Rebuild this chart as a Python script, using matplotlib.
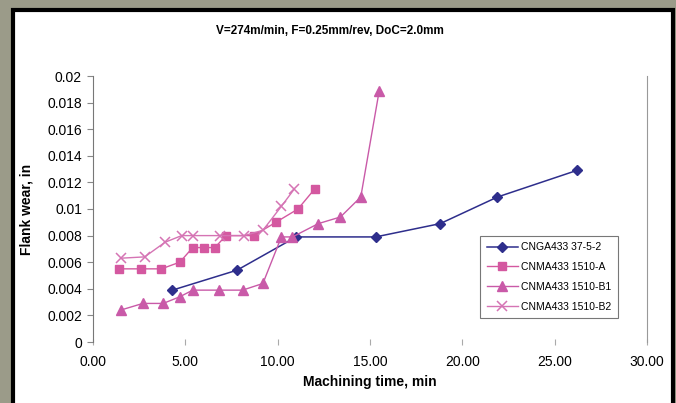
import matplotlib.pyplot as plt
from matplotlib.patches import Rectangle

plt.rcParams['font.family'] = ['Liberation Sans', 'DejaVu Sans']

# CNGA433 37-5-2
t_cnga = [4.3, 7.8, 11.0, 15.3, 18.8, 21.9, 26.2]
w_cnga = [0.0039, 0.0054, 0.0079, 0.0079, 0.0089, 0.0109, 0.0129]

# CNMA433 1510-A
t_a = [1.4, 2.6, 3.7, 4.7, 5.4, 6.0, 6.6, 7.2, 8.7, 9.9, 11.1, 12.0]
w_a = [0.0055, 0.0055, 0.0055, 0.0060, 0.0071, 0.0071, 0.0071, 0.0080, 0.0080, 0.0090, 0.0100, 0.0115]

# CNMA433 1510-B1
t_b1 = [1.5, 2.7, 3.8, 4.7, 5.4, 6.8, 8.1, 9.2, 10.2, 10.8, 12.2, 13.4, 14.5, 15.5]
w_b1 = [0.0024, 0.0029, 0.0029, 0.0034, 0.0039, 0.0039, 0.0039, 0.0044, 0.0079,
        0.0079, 0.0089, 0.0094, 0.0109, 0.0189]

# CNMA433 1510-B2
t_b2 = [1.5, 2.8, 3.9, 4.8, 5.4, 6.9, 8.2, 9.2, 10.2, 10.9]
w_b2 = [0.0063, 0.0064, 0.0075, 0.0080, 0.0080, 0.0080, 0.0080, 0.0084, 0.0102, 0.0115]

x_ticks = [0, 5, 10, 15, 20, 25, 30]
y_ticks = [0, 0.002, 0.004, 0.006, 0.008, 0.01, 0.012, 0.014, 0.016, 0.018, 0.02]

fig = plt.figure(figsize=(6.76, 4.03), dpi=100, facecolor='#9b9b89')

# white panel with black frame, behind everything
bg = fig.add_axes([0, 0, 1, 1], zorder=-10)
bg.set_xlim(0, 676)
bg.set_ylim(403, 0)
bg.axis('off')
bg.add_patch(Rectangle((12.5, 9.5), 673 - 12.5, 420, facecolor='white',
                       edgecolor='black', linewidth=3))

ax = fig.add_axes([93 / 676, 1 - 342 / 403, (647 - 93) / 676, (342 - 76) / 403])
ax.set_facecolor('none')

ax.plot(t_cnga, w_cnga, color='#2e2e8c', marker='D', markersize=5.5, linewidth=1.1,
        label='CNGA433 37-5-2')
ax.plot(t_a, w_a, color='#d458a0', marker='s', markersize=5.5, linewidth=1.0,
        label='CNMA433 1510-A')
ax.plot(t_b1, w_b1, color='#c95aa8', marker='^', markersize=6.5, linewidth=1.0,
        label='CNMA433 1510-B1')
ax.plot(t_b2, w_b2, color='#d574b4', marker='x', markersize=6.5, markeredgewidth=1.1,
        linewidth=1.0, label='CNMA433 1510-B2')

ax.set_xlim(0, 30)
ax.set_ylim(0, 0.02)
ax.set_xticks(x_ticks)
ax.set_xticklabels(['%.2f' % v for v in x_ticks], fontsize=10)
ax.set_yticks(y_ticks)
ax.set_yticklabels(['%g' % v for v in y_ticks], fontsize=10)

for side in ['top', 'bottom']:
    ax.spines[side].set_visible(False)
ax.spines['left'].set_color('#777777')
ax.spines['right'].set_color('#999999')
ax.tick_params(axis='y', length=4, color='#888888', pad=4)
ax.tick_params(axis='x', length=5, color='#aaaaaa', direction='inout', pad=7)

ax.set_xlabel('Machining time, min', fontsize=10, fontweight='bold', labelpad=4)
ax.set_ylabel('Flank wear, in', fontsize=10, fontweight='bold', labelpad=10)

fig.text(330 / 676, 1 - 31 / 403, 'V=274m/min, F=0.25mm/rev, DoC=2.0mm',
         ha='center', va='center', fontsize=8.5, fontweight='bold')

leg = ax.legend(loc='lower left', bbox_to_anchor=(0.69, 0.07), fontsize=7.5,
                frameon=True, fancybox=False, edgecolor='#555555',
                handlelength=3, handletextpad=0.3, labelspacing=0.95,
                borderpad=0.6)
leg.get_frame().set_linewidth(0.8)

fig.savefig('out.png', dpi=100, facecolor=fig.get_facecolor())
